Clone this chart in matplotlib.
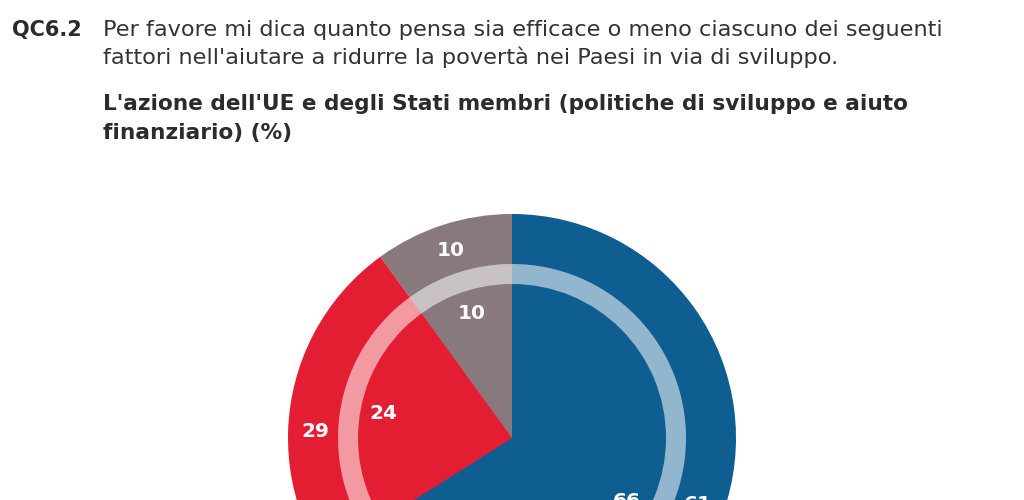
import matplotlib.pyplot as plt

# ===============================
# DATA
# ===============================
question_id = "QC6.2"
question_lines = [
    "Per favore mi dica quanto pensa sia efficace o meno ciascuno dei seguenti",
    "fattori nell'aiutare a ridurre la povertà nei Paesi in via di sviluppo.",
]
subtitle_lines = [
    "L'azione dell'UE e degli Stati membri (politiche di sviluppo e aiuto",
    "finanziario) (%)",
]

# order: non sa (gray), non efficace (red), efficace (blue)
outer_values = [10, 29, 61]
inner_values = [10, 24, 66]
colors = ["#88797c", "#e41e32", "#0e5e91"]

# ===============================
# FIGURE (axes in pixel units, y up)
# ===============================
W, H = 1024, 500
fig = plt.figure(figsize=(W / 100, H / 100), dpi=100)
ax = fig.add_axes([0, 0, 1, 1])

cx, cy = 512, H - 438
r_out, r_in = 224, 164

label_style = dict(color="white", fontsize=14.5, fontweight="bold", family="DejaVu Sans")

# outer ring drawn as a full pie underneath, inner pie on top (no seam)
ax.pie(outer_values, radius=r_out, center=(cx, cy), startangle=90, colors=colors,
       wedgeprops=dict(linewidth=0),
       autopct=lambda p: f"{p:.0f}", pctdistance=197 / r_out, textprops=label_style)

ax.pie(inner_values, radius=r_in, center=(cx, cy), startangle=90, colors=colors,
       wedgeprops=dict(linewidth=0),
       autopct=lambda p: f"{p:.0f}", pctdistance=131 / r_in, textprops=label_style)

# translucent separator ring
ax.pie([1], radius=174, center=(cx, cy), colors=["white"],
       wedgeprops=dict(width=20, linewidth=0, alpha=0.55))

ax.set_xlim(0, W)
ax.set_ylim(0, H)
ax.set_aspect("equal")
ax.axis("off")

# ===============================
# HEADER TEXT
# ===============================
txt = "#2b2b2b"
ax.text(12, H - 36, question_id, fontsize=15, fontweight="bold",
        family="DejaVu Sans", color=txt, va="baseline")
for i, line in enumerate(question_lines):
    ax.text(103, H - 36 - 28 * i, line, fontsize=16.1, family="DejaVu Sans",
            color="#333333", va="baseline")
for i, line in enumerate(subtitle_lines):
    ax.text(103, H - 110 - 29 * i, line, fontsize=15.6, fontweight="bold",
            family="DejaVu Sans", color=txt, va="baseline")

fig.savefig("out.png", dpi=100)
